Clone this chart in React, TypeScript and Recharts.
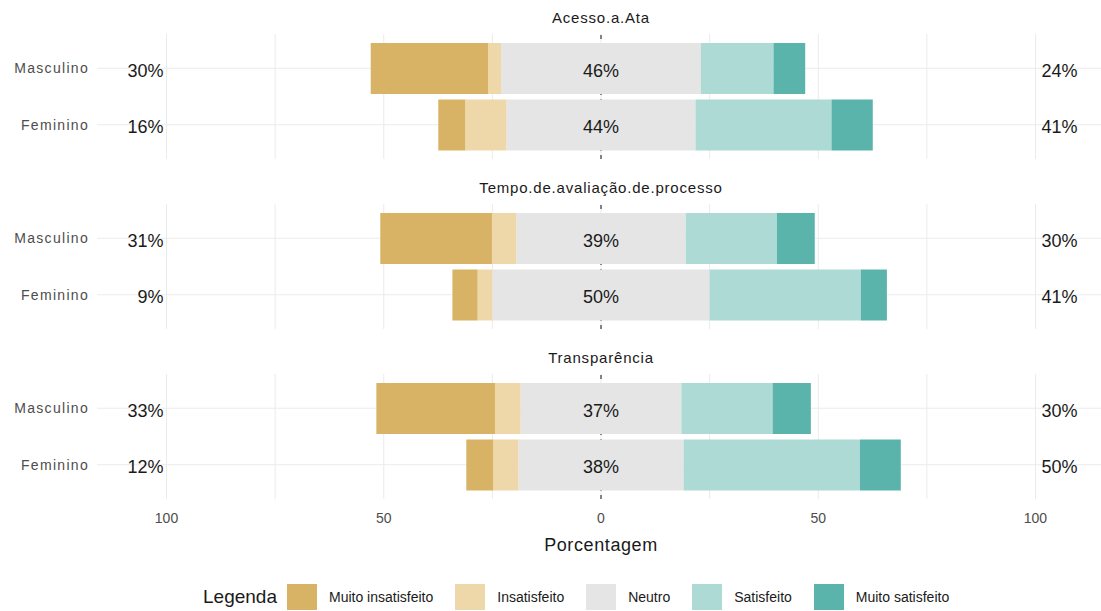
import React from 'react';
import { BarChart, Bar, XAxis, YAxis, ReferenceLine, ReferenceDot } from 'recharts';

const categories = ['Masculino', 'Feminino'];
const items = ['Acesso.a.Ata', 'Tempo.de.avaliação.de.processo', 'Transparência'];
const levels = ['Muito insatisfeito', 'Insatisfeito', 'Neutro', 'Satisfeito', 'Muito satisfeito'];
const levelColors = ['#D8B365', '#EED8A9', '#E5E5E5', '#ADDAD4', '#5AB4AC'];

// one row per item, [Masculino, Feminino], percent
const muitoInsatisfeito = [[27, 6.2], [25.7, 5.8], [27.3, 6.2]];
const insatisfeito = [[3, 9.5], [5.6, 3.4], [5.9, 5.8]];
const neutro = [[46, 43.5], [39, 50], [37, 38]];
const satisfeito = [[16.7, 31.3], [21, 34.8], [21, 40.6]];
const muitoSatisfeito = [[7.3, 9.5], [8.7, 6], [8.8, 9.4]];

const xTicks = [-100, -75, -50, -25, 0, 25, 50, 75, 100];
const xLabelTicks = [-100, -50, 0, 50, 100];

const FONT = '"Liberation Sans", Arial, sans-serif';
const CHART_W = 1105;
const PANEL_H = 125;
const PANEL_TOPS = [34, 203.75, 373.5];
const GRID = '#EBEBEB';

function rowsFor(i: number) {
  return categories.map((cat, j) => {
    const n = neutro[i][j];
    const low = muitoInsatisfeito[i][j] + insatisfeito[i][j];
    const high = satisfeito[i][j] + muitoSatisfeito[i][j];
    return {
      cat,
      nL: -n / 2,
      nR: n / 2,
      ins: -insatisfeito[i][j],
      sat: satisfeito[i][j],
      mi: -muitoInsatisfeito[i][j],
      ms: muitoSatisfeito[i][j],
      lowLabel: `${Math.round(low)}%`,
      midLabel: `${Math.round(n)}%`,
      highLabel: `${Math.round(high)}%`,
    };
  });
}

const pctText = (label: string, anchor: 'start' | 'middle' | 'end', dx: number) => (p: any) => (
  <text
    x={p.cx + dx}
    y={p.cy + 2.5}
    textAnchor={anchor}
    dominantBaseline="central"
    fontFamily={FONT}
    fontSize={18}
    fill="#1A1A1A"
  >
    {label}
  </text>
);

function Panel({ index }: { index: number }) {
  const rows = rowsFor(index);
  const last = index === items.length - 1;
  return (
    <div style={{ position: 'absolute', left: 0, top: PANEL_TOPS[index] }}>
      <BarChart
        width={CHART_W}
        height={PANEL_H + (last ? 30 : 0)}
        data={rows}
        layout="vertical"
        stackOffset="sign"
        barSize={51}
        margin={{ top: 0, right: 0, bottom: 0, left: 0 }}
      >
        <XAxis
          type="number"
          domain={[-116, 116]}
          ticks={xTicks}
          hide={!last}
          height={30}
          axisLine={false}
          tickLine={false}
          tickSize={6}
          tickMargin={8}
          tickFormatter={(v: number) => (xLabelTicks.includes(v) ? String(Math.abs(v)) : '')}
          tick={{ fill: '#4D4D4D', fontSize: 14, fontFamily: FONT }}
        />
        <YAxis
          type="category"
          dataKey="cat"
          width={97}
          padding={{ top: 6, bottom: 6 }}
          axisLine={false}
          tickLine={false}
          tick={{ fill: '#4D4D4D', fontSize: 14, fontFamily: FONT, letterSpacing: 1.3 }}
        />
        {xTicks.map((v) => (
          <ReferenceLine key={`gx-${v}`} x={v} stroke={GRID} zIndex={-60} />
        ))}
        {rows.map((r) => (
          <ReferenceLine key={`gy-${r.cat}`} y={r.cat} stroke={GRID} zIndex={-60} />
        ))}
        <ReferenceLine x={0} stroke="#111" strokeDasharray="4 4" zIndex={-50} />
        <Bar dataKey="nL" stackId="a" fill={levelColors[2]} isAnimationActive={false} />
        <Bar dataKey="nR" stackId="a" fill={levelColors[2]} isAnimationActive={false} />
        <Bar dataKey="ins" stackId="a" fill={levelColors[1]} isAnimationActive={false} />
        <Bar dataKey="sat" stackId="a" fill={levelColors[3]} isAnimationActive={false} />
        <Bar dataKey="mi" stackId="a" fill={levelColors[0]} isAnimationActive={false} />
        <Bar dataKey="ms" stackId="a" fill={levelColors[4]} isAnimationActive={false} />
        {rows.map((r) => (
          <ReferenceDot key={`l-${r.cat}`} x={-100} y={r.cat} r={0} shape={pctText(r.lowLabel, 'end', -3)} />
        ))}
        {rows.map((r) => (
          <ReferenceDot key={`m-${r.cat}`} x={0} y={r.cat} r={0} shape={pctText(r.midLabel, 'middle', 0)} />
        ))}
        {rows.map((r) => (
          <ReferenceDot key={`h-${r.cat}`} x={100} y={r.cat} r={0} shape={pctText(r.highLabel, 'start', 6)} />
        ))}
      </BarChart>
    </div>
  );
}

export default function App() {
  return (
    <div
      style={{
        position: 'absolute',
        left: 0,
        top: 0,
        width: 1101,
        height: 611,
        overflow: 'hidden',
        background: '#FFFFFF',
        fontFamily: FONT,
      }}
    >
      {items.map((name, i) => (
        <div
          key={name}
          style={{
            position: 'absolute',
            left: 97,
            width: 1008,
            top: PANEL_TOPS[i] - 26,
            height: 20,
            lineHeight: '20px',
            textAlign: 'center',
            fontSize: 15,
            letterSpacing: 0.8,
            color: '#1A1A1A',
          }}
        >
          {name}
        </div>
      ))}
      {items.map((name, i) => (
        <Panel key={name} index={i} />
      ))}
      <div
        style={{
          position: 'absolute',
          left: 97,
          width: 1008,
          top: 533,
          height: 24,
          lineHeight: '24px',
          textAlign: 'center',
          fontSize: 18,
          letterSpacing: 0.6,
          color: '#1A1A1A',
        }}
      >
        Porcentagem
      </div>
      <div
        style={{
          position: 'absolute',
          left: 203,
          top: 584,
          height: 26,
          display: 'flex',
          alignItems: 'center',
          color: '#1A1A1A',
        }}
      >
        <span style={{ fontSize: 19, marginRight: 10 }}>Legenda</span>
        {levels.map((lv, k) => (
          <span key={lv} style={{ display: 'flex', alignItems: 'center', marginRight: 22 }}>
            <span style={{ width: 30, height: 26, background: levelColors[k], display: 'inline-block' }} />
            <span style={{ fontSize: 14, marginLeft: 12 }}>{lv}</span>
          </span>
        ))}
      </div>
    </div>
  );
}
